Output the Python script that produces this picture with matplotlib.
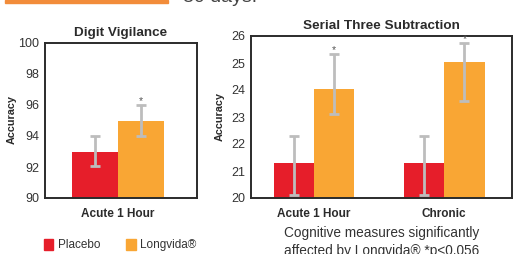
import numpy as np
import matplotlib
matplotlib.use('Agg')
import matplotlib.pyplot as plt
from matplotlib.patches import Patch

plt.rcParams['font.family'] = ['Liberation Sans', 'DejaVu Sans']

# Digit Vigilance
dv_groups = ['Acute 1 Hour']
dv_placebo = [93.0]
dv_placebo_lo = [92.05]
dv_placebo_hi = [94.0]
dv_longvida = [95.0]
dv_longvida_lo = [94.0]
dv_longvida_hi = [96.0]
dv_ticks = [90, 92, 94, 96, 98, 100]

# Serial Three Subtraction
st_groups = ['Acute 1 Hour', 'Chronic']
st_placebo = [21.3, 21.3]
st_placebo_lo = [20.1, 20.1]
st_placebo_hi = [22.3, 22.3]
st_longvida = [24.05, 25.05]
st_longvida_lo = [23.1, 23.6]
st_longvida_hi = [25.35, 25.75]
st_ticks = [20, 21, 22, 23, 24, 25, 26]

red = '#E61E2A'
orange = '#F9A634'
errc = '#BDBDBD'
dark = '#2b2b2b'

fig = plt.figure(figsize=(5.23, 2.54), dpi=100)


def draw(ax, groups, pl, pl_lo, pl_hi, lv, lv_lo, lv_hi, ticks, title, w):
    x = np.arange(len(groups))
    pl = np.array(pl); lv = np.array(lv)
    ax.bar(x - w / 2, pl, w, color=red, zorder=2)
    ax.bar(x + w / 2, lv, w, color=orange, zorder=2)
    ax.errorbar(x - w / 2, pl, yerr=[pl - np.array(pl_lo), np.array(pl_hi) - pl],
                fmt='none', ecolor=errc, elinewidth=2, capsize=3.5, capthick=2, zorder=3)
    ax.errorbar(x + w / 2, lv, yerr=[lv - np.array(lv_lo), np.array(lv_hi) - lv],
                fmt='none', ecolor=errc, elinewidth=2, capsize=3.5, capthick=2, zorder=3)
    for xi, hi in zip(x, lv_hi):
        ax.annotate('*', (xi + w / 2, hi), xytext=(0, -1), textcoords='offset points',
                    ha='center', va='bottom', fontsize=7.5, color='#555555', zorder=4)
    ax.set_ylim(ticks[0], ticks[-1])
    ax.set_yticks(ticks)
    ax.set_xticks(x)
    ax.set_xticklabels(groups, fontsize=8.5, fontweight='bold', color=dark)
    ax.tick_params(axis='y', length=0, labelsize=9, colors='#333333', pad=4)
    ax.tick_params(axis='x', length=0, pad=7)
    for s in ax.spines.values():
        s.set_linewidth(1.4)
        s.set_color(dark)
    ax.set_title(title, fontsize=9.7, fontweight='bold', color=dark, pad=5)


ax1 = fig.add_axes([45 / 523, 56 / 254, 152 / 523, 155 / 254])
draw(ax1, dv_groups, dv_placebo, dv_placebo_lo, dv_placebo_hi,
     dv_longvida, dv_longvida_lo, dv_longvida_hi, dv_ticks, 'Digit Vigilance', 0.3)
ax1.set_xlim(-0.48, 0.52)

ax2 = fig.add_axes([251 / 523, 56 / 254, 261 / 523, 162 / 254])
draw(ax2, st_groups, st_placebo, st_placebo_lo, st_placebo_hi,
     st_longvida, st_longvida_lo, st_longvida_hi, st_ticks, 'Serial Three Subtraction', 0.31)
ax2.set_xlim(-0.485, 1.52)

fig.text(12 / 523, 1 - 120 / 254, 'Accuracy', rotation=90, fontsize=7.8, fontweight='bold',
         color=dark, ha='center', va='center')
fig.text(220 / 523, 1 - 117 / 254, 'Accuracy', rotation=90, fontsize=7.8, fontweight='bold',
         color=dark, ha='center', va='center')

# legend
handles = [Patch(color=red, label='Placebo'), Patch(color=orange, label='Longvida®')]
fig.legend(handles=handles, loc='center left', bbox_to_anchor=(33 / 523, 1 - 245 / 254),
           ncol=2, frameon=False, fontsize=8.5, handlelength=0.8, handleheight=1.1,
           handletextpad=0.4, columnspacing=2.2, labelcolor='#333333')

# footnote
fig.text(382 / 523, 1 - 233 / 254, 'Cognitive measures significantly', ha='center', va='center',
         fontsize=9.8, color='#333333')
fig.text(382 / 523, 1 - 251 / 254, 'affected by Longvida® *p<0.056', ha='center', va='center',
         fontsize=9.8, color='#333333')

# header remnants
fig.patches.append(plt.Rectangle((5 / 523, 1 - 3 / 254), 163 / 523, 3 / 254,
                                 transform=fig.transFigure, color='#F28C3A', zorder=1))
fig.text(183 / 523, 1 + 2 / 254, '30 days.', ha='left', va='center', fontsize=14, color='#444444')

fig.savefig('out.png', dpi=100)
